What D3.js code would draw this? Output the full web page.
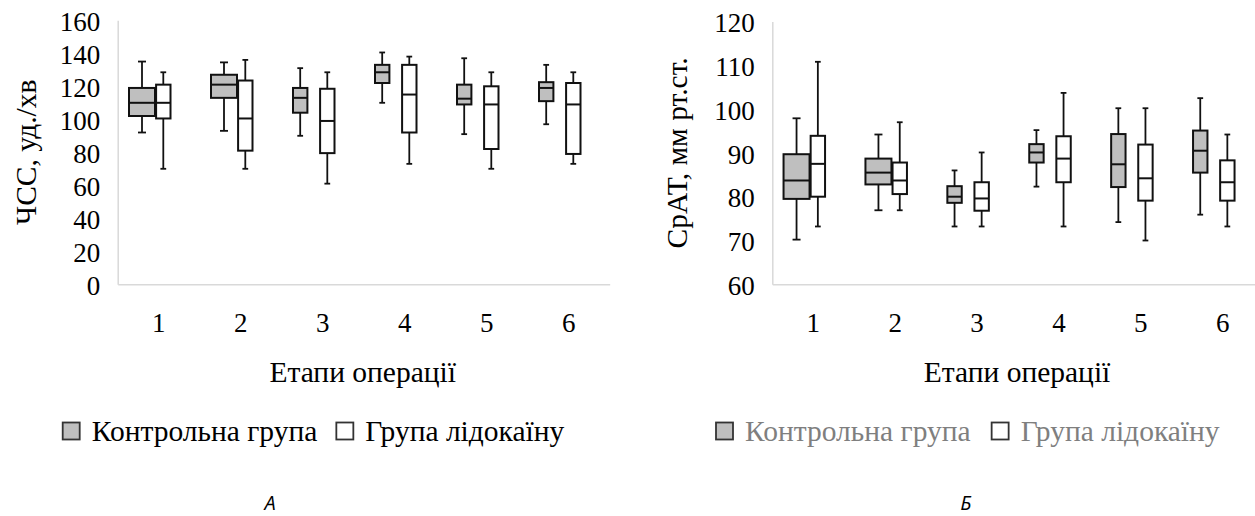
<!DOCTYPE html>
<html>
<head>
<meta charset="utf-8">
<script src="https://cdn.jsdelivr.net/npm/d3@7"></script>
<style>
  html, body { margin: 0; padding: 0; background: #fff; }
  svg { display: block; }
</style>
</head>
<body>
<svg id="chart" width="1255" height="516"></svg>
<script>
// ---------- DATA ----------
const stages = ["1", "2", "3", "4", "5", "6"];
const seriesNames = ["Контрольна група", "Група лідокаїну"];

// Chart A: ЧСС, уд./хв
const hrTicks = [0, 20, 40, 60, 80, 100, 120, 140, 160];
const hrControlMin = [92, 93, 90, 110, 91, 97];
const hrControlQ1  = [102, 113, 104, 122, 109, 111];
const hrControlMed = [110, 121, 113, 128.5, 112.5, 119];
const hrControlQ3  = [119, 127, 119, 133, 121, 122.5];
const hrControlMax = [135, 134.5, 131, 140.5, 137, 133];
const hrLidoMin = [70, 70, 61, 73, 70, 73];
const hrLidoQ1  = [100.5, 81, 79.5, 92, 82, 79];
const hrLidoMed = [110, 100.5, 99, 115, 109, 109];
const hrLidoQ3  = [121, 123.5, 118.5, 133, 120, 122];
const hrLidoMax = [128.5, 136, 128.5, 138, 128.5, 128.5];

// Chart Б: СрАТ, мм рт.ст.
const mapTicks = [60, 70, 80, 90, 100, 110, 120];
const mapControlMin = [70.2, 76.9, 73.2, 82.3, 74.2, 75.9];
const mapControlQ1  = [79.5, 82.8, 78.6, 87.8, 82.2, 85.5];
const mapControlMed = [83.7, 85.5, 80, 90.1, 87.4, 90.5];
const mapControlQ3  = [89.7, 88.7, 82.4, 92, 94.3, 95.1];
const mapControlMax = [97.9, 94.2, 86, 95.2, 100.2, 102.5];
const mapLidoMin = [73.2, 76.9, 73.2, 73.2, 70, 73.2];
const mapLidoQ1  = [80, 80.6, 76.8, 83.3, 79.1, 79.1];
const mapLidoMed = [87.5, 83.7, 79.6, 88.7, 84.2, 83.3];
const mapLidoQ3  = [93.9, 87.8, 83.3, 93.8, 91.9, 88.3];
const mapLidoMax = [110.8, 97, 90.1, 103.7, 100.2, 94.2];

// ---------- DRAWING ----------
const svg = d3.select("#chart");
const TICK_FONT = 27;
const TEXT_FONT = 29.5;
const SERIF = '"Liberation Serif", "Times New Roman", Times, serif';
const SANS = '"Open Sans", "Liberation Sans", sans-serif';
const wideControlStages = ["1", "2"]; // style: control boxes drawn wider at these stages

function serifText(sel, size) {
  return sel.style("font-family", SERIF).style("font-size", (size || TEXT_FONT) + "px");
}

function makeSeries(min, q1, med, q3, max) {
  return stages.map((s, i) => ({ stage: s, min: min[i], q1: q1[i], med: med[i], q3: q3[i], max: max[i] }));
}

function drawPanel(cfg) {
  const g = svg.append("g");
  const x = d3.scaleBand().domain(stages).range([cfg.x0, cfg.x1]).padding(0);
  const y = d3.scaleLinear().domain(cfg.domain).range([cfg.yBottom, cfg.yTop]);

  // y axis
  const ya = g.append("g").attr("transform", `translate(${cfg.x0},0)`)
    .call(d3.axisLeft(y).tickValues(cfg.ticks).tickSizeInner(0).tickSizeOuter(0).tickPadding(17.5));
  ya.select(".domain").attr("stroke", "#d9d9d9").attr("stroke-width", 1.5);
  serifText(ya.selectAll("text"), TICK_FONT).attr("fill", "#000").attr("dy", "0.38em");

  // x axis
  const xa = g.append("g").attr("transform", `translate(0,${cfg.yBottom})`)
    .call(d3.axisBottom(x).tickSizeInner(0).tickSizeOuter(0).tickPadding(0));
  xa.select(".domain").attr("stroke", "#d9d9d9").attr("stroke-width", 1.5);
  serifText(xa.selectAll("text"), TICK_FONT).attr("fill", "#000")
    .attr("y", 323 - cfg.yBottom).attr("dy", "0.34em");

  // axis titles
  serifText(g.append("text"))
    .attr("transform", `translate(${cfg.yTitleX},${(cfg.yTop + cfg.yBottom) / 2}) rotate(-90)`)
    .attr("text-anchor", "middle").attr("fill", "#000").text(cfg.yTitle);
  serifText(g.append("text")).attr("x", (cfg.x0 + cfg.x1) / 2 - 1).attr("y", 381.5)
    .attr("text-anchor", "middle").attr("fill", "#000").text("Етапи операції");

  // boxes
  const bw = x.bandwidth();
  const series = [
    { data: cfg.control, fill: "#bfbfbf", off: -29.7, w: s => wideControlStages.includes(s) ? 26 : 14.4 },
    { data: cfg.lido, fill: "#ffffff", off: -2.6, w: s => 14.4 }
  ];
  series.forEach(sr => {
    const bx = g.append("g").selectAll("g").data(sr.data).join("g");
    const left = d => x(d.stage) + bw / 2 + sr.off;
    const cx = d => left(d) + sr.w(d.stage) / 2;
    const cap = d => Math.min(8, sr.w(d.stage) * 0.4);
    bx.append("line").attr("x1", cx).attr("x2", cx).attr("y1", d => y(d.max)).attr("y2", d => y(d.q3))
      .attr("stroke", "#111").attr("stroke-width", 1.8);
    bx.append("line").attr("x1", cx).attr("x2", cx).attr("y1", d => y(d.q1)).attr("y2", d => y(d.min))
      .attr("stroke", "#111").attr("stroke-width", 1.8);
    bx.append("line").attr("x1", d => cx(d) - cap(d) / 2).attr("x2", d => cx(d) + cap(d) / 2)
      .attr("y1", d => y(d.max)).attr("y2", d => y(d.max)).attr("stroke", "#111").attr("stroke-width", 1.8);
    bx.append("line").attr("x1", d => cx(d) - cap(d) / 2).attr("x2", d => cx(d) + cap(d) / 2)
      .attr("y1", d => y(d.min)).attr("y2", d => y(d.min)).attr("stroke", "#111").attr("stroke-width", 1.8);
    bx.append("rect").attr("x", left).attr("width", d => sr.w(d.stage))
      .attr("y", d => y(d.q3)).attr("height", d => y(d.q1) - y(d.q3))
      .attr("fill", sr.fill).attr("stroke", "#111").attr("stroke-width", 2);
    bx.append("line").attr("x1", left).attr("x2", d => left(d) + sr.w(d.stage))
      .attr("y1", d => y(d.med)).attr("y2", d => y(d.med)).attr("stroke", "#111").attr("stroke-width", 2);
  });

  // legend
  const lg = g.append("g");
  let lx = cfg.legendX;
  seriesNames.forEach((name, i) => {
    lg.append("rect").attr("x", lx + 1).attr("y", 422.5).attr("width", 17).attr("height", 17)
      .attr("fill", i === 0 ? "#bfbfbf" : "#fff").attr("stroke", "#333").attr("stroke-width", 1.8);
    const t = serifText(lg.append("text")).attr("x", lx + 30).attr("y", 440.5)
      .attr("fill", cfg.legendColor).text(name);
    lx = lx + 30 + t.node().getComputedTextLength() + cfg.legendGap;
  });

  // panel label
  g.append("text").attr("x", cfg.labelX).attr("y", 509.5).attr("text-anchor", "middle")
    .style("font-family", SANS).style("font-style", "italic").style("font-size", "20px")
    .attr("fill", "#000").text(cfg.label);
}

drawPanel({
  x0: 117.7, x1: 609.7, yTop: 20.3, yBottom: 284.3, domain: [0, 160], ticks: hrTicks,
  yTitle: "ЧСС, уд./хв", yTitleX: 36.3,
  control: makeSeries(hrControlMin, hrControlQ1, hrControlMed, hrControlQ3, hrControlMax),
  lido: makeSeries(hrLidoMin, hrLidoQ1, hrLidoMed, hrLidoQ3, hrLidoMax),
  legendX: 61.7, legendGap: 18, legendColor: "#000", label: "A", labelX: 270
});

drawPanel({
  x0: 772.3, x1: 1263.7, yTop: 21.5, yBottom: 284.3, domain: [60, 120], ticks: mapTicks,
  yTitle: "СрАТ, мм рт.ст.", yTitleX: 686.7,
  control: makeSeries(mapControlMin, mapControlQ1, mapControlMed, mapControlQ3, mapControlMax),
  lido: makeSeries(mapLidoMin, mapLidoQ1, mapLidoMed, mapLidoQ3, mapLidoMax),
  legendX: 715, legendGap: 20, legendColor: "#7f7f7f", label: "Б", labelX: 966
});
</script>
</body>
</html>
